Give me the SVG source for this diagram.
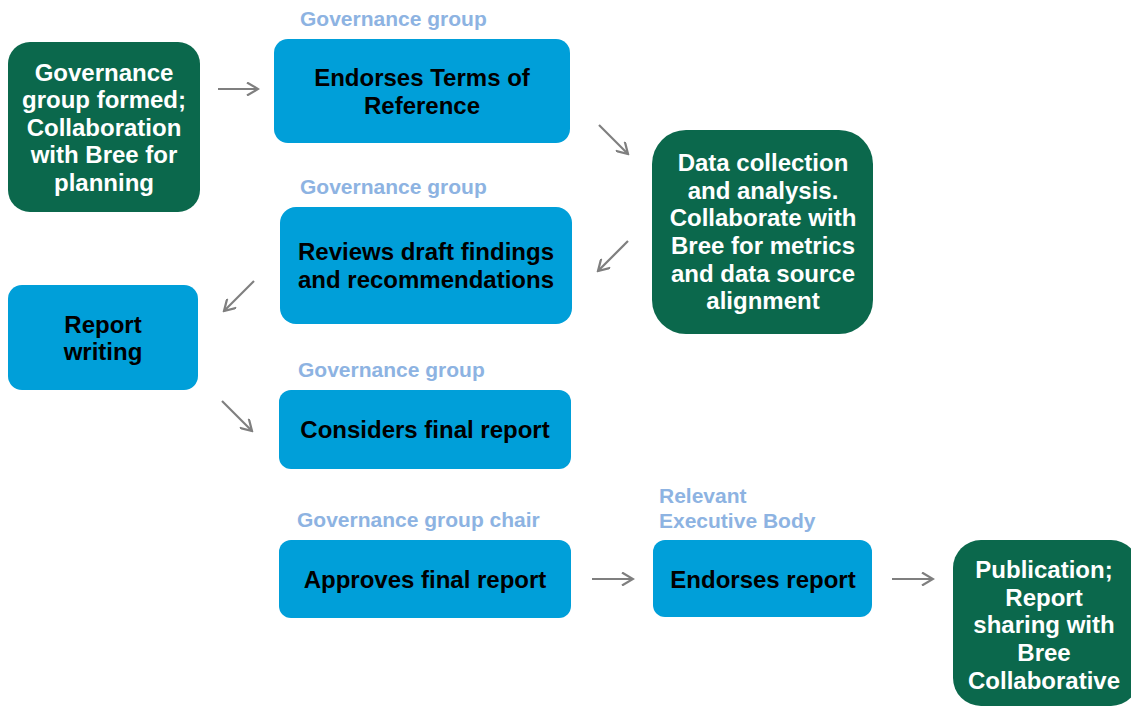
<svg xmlns="http://www.w3.org/2000/svg" width="1131" height="706" viewBox="0 0 1131 706">
<defs>
<style>
.g{fill:#0B684C}
.b{fill:#009FD9}
.tw{font-family:"Liberation Sans",Arial,sans-serif;font-weight:bold;font-size:24px;fill:#fff;text-anchor:middle}
.tb{font-family:"Liberation Sans",Arial,sans-serif;font-weight:bold;font-size:24px;fill:#000;text-anchor:middle}
.lb{font-family:"Liberation Sans",Arial,sans-serif;font-weight:bold;font-size:21px;fill:#8DB3E2}
.c{fill:none;stroke:#7F7F7F;stroke-width:2.2}
</style>
<marker id="ah" viewBox="0 0 14 14" refX="12" refY="7" markerWidth="14" markerHeight="14" markerUnits="userSpaceOnUse" orient="auto">
<path d="M1,0.5 L12,7 L1,13.5" fill="none" stroke="#7F7F7F" stroke-width="2.2"/>
</marker>
</defs>
<rect width="1131" height="706" fill="#fff"/>
<g id="n1"><rect class="g" x="8" y="42" width="192" height="170" rx="22"/>
<text class="tw"><tspan x="104" y="81">Governance</tspan><tspan x="104" y="108">group formed;</tspan><tspan x="104" y="136">Collaboration</tspan><tspan x="104" y="163">with Bree for</tspan><tspan x="104" y="191">planning</tspan></text></g>
<g id="n2"><text class="lb" x="300" y="26">Governance group</text><rect class="b" x="274" y="39" width="296" height="104" rx="14"/>
<text class="tb"><tspan x="422" y="86">Endorses Terms of</tspan><tspan x="422" y="114">Reference</tspan></text></g>
<g id="n3"><rect class="g" x="652" y="130" width="221" height="204" rx="34"/>
<text class="tw"><tspan x="763" y="171">Data collection</tspan><tspan x="763" y="199">and analysis.</tspan><tspan x="763" y="226">Collaborate with</tspan><tspan x="763" y="254">Bree for metrics</tspan><tspan x="763" y="282">and data source</tspan><tspan x="763" y="309">alignment</tspan></text></g>
<g id="n4"><text class="lb" x="300" y="194">Governance group</text><rect class="b" x="280" y="207" width="292" height="117" rx="16"/>
<text class="tb"><tspan x="426" y="260">Reviews draft findings</tspan><tspan x="426" y="288">and recommendations</tspan></text></g>
<g id="n5"><rect class="b" x="8" y="285" width="190" height="105" rx="14"/>
<text class="tb"><tspan x="103" y="333">Report</tspan><tspan x="103" y="360">writing</tspan></text></g>
<g id="n6"><text class="lb" x="298" y="377">Governance group</text><rect class="b" x="279" y="390" width="292" height="79" rx="12"/>
<text class="tb" x="425" y="438">Considers final report</text></g>
<g id="n7"><text class="lb" x="297" y="527">Governance group chair</text><rect class="b" x="279" y="540" width="292" height="78" rx="12"/>
<text class="tb" x="425" y="588">Approves final report</text></g>
<g id="n8"><text class="lb"><tspan x="659" y="503">Relevant</tspan><tspan x="659" y="528">Executive Body</tspan></text><rect class="b" x="653" y="540" width="219" height="77" rx="12"/>
<text class="tb" x="763" y="588">Endorses report</text></g>
<g id="n9"><rect class="g" x="953" y="540" width="186" height="166" rx="28"/>
<text class="tw"><tspan x="1044" y="578">Publication;</tspan><tspan x="1044" y="606">Report</tspan><tspan x="1044" y="633">sharing with</tspan><tspan x="1044" y="661">Bree</tspan><tspan x="1044" y="689">Collaborative</tspan></text></g>
<g id="connectors">
<line class="c" x1="218" y1="89" x2="258" y2="89" marker-end="url(#ah)"/>
<line class="c" x1="599" y1="125" x2="628" y2="154" marker-end="url(#ah)"/>
<line class="c" x1="628" y1="241" x2="598" y2="271" marker-end="url(#ah)"/>
<line class="c" x1="254" y1="281" x2="224" y2="311" marker-end="url(#ah)"/>
<line class="c" x1="222" y1="401" x2="252" y2="431" marker-end="url(#ah)"/>
<line class="c" x1="592" y1="579" x2="633" y2="579" marker-end="url(#ah)"/>
<line class="c" x1="892" y1="579" x2="933" y2="579" marker-end="url(#ah)"/>
</g>
</svg>
